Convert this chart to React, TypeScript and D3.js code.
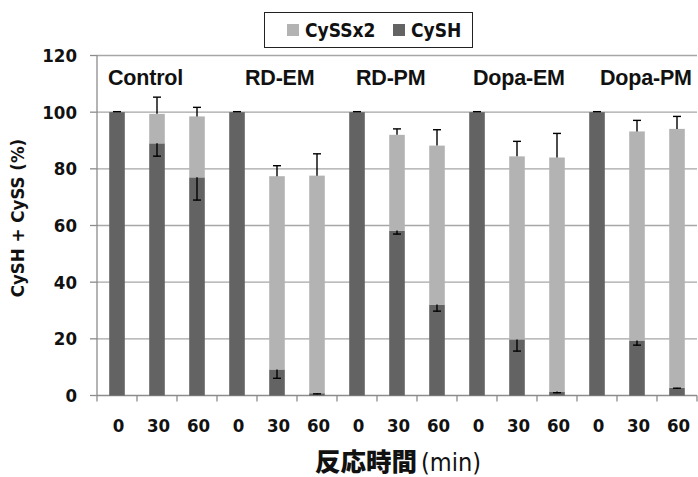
import * as d3 from "d3";

// values (%)
const groups = ["Control", "RD-EM", "RD-PM", "Dopa-EM", "Dopa-PM"];
const times = ["0", "30", "60"];
const cysh = [100, 89, 77, 100, 9.2, 0.8, 100, 58.2, 32.1, 100, 19.8, 1.4, 100, 19.4, 2.7];
const cyssx2 = [0, 10.4, 21.5, 0, 68.2, 76.8, 0, 33.8, 56.1, 0, 64.6, 82.6, 0, 73.8, 91.4];
const totalErr = [0, 5.9, 3.2, 0, 3.7, 7.7, 0, 2.1, 5.6, 0, 5.3, 8.5, 0, 3.9, 4.4];
const cyshErr = [0, 4.7, 8.2, 0, 3.3, 0.4, 0, 1.4, 2.5, 0, 4.3, 0.6, 0, 1.8, 0.3];
const yTicks = [0, 20, 40, 60, 80, 100, 120];

const W = 698;
const H = 477;
const MARGIN = { top: 55.5, right: 1, bottom: 81.5, left: 97 };
// group label left positions (manually placed text boxes in the original)
const GROUP_LABEL_X = [108, 245, 356, 473, 600];

const DARK = "#636363";
const LIGHT = "#b3b3b3";
const GRID = "#a6a6a6";
const AXIS = "#8c8c8c";
const COND = "'DejaVu Sans Condensed', 'DejaVu Sans', sans-serif";

export default function App() {
  const boundsWidth = W - MARGIN.left - MARGIN.right;
  const boundsHeight = H - MARGIN.top - MARGIN.bottom;

  const rows = groups.flatMap((g, gi) =>
    times.map((t, ti) => {
      const i = gi * 3 + ti;
      return { key: `${g}-${t}`, t, cysh: cysh[i], cyss: cyssx2[i], tErr: totalErr[i], hErr: cyshErr[i] };
    })
  );

  const xScale = d3
    .scaleBand()
    .domain(rows.map((d) => d.key))
    .range([0, boundsWidth])
    .paddingInner(0.61)
    .paddingOuter(0.305);
  const step = boundsWidth / rows.length;
  const yScale = d3.scaleLinear().domain([0, 120]).range([boundsHeight, 0]);
  const bw = xScale.bandwidth();
  const cap = 4;

  return (
    <svg
      width={W}
      height={H}
      style={{ position: "absolute", left: 0, top: 0, background: "white" }}
    >
      {/* legend */}
      <rect x={264.5} y={12.5} width={208} height={35} fill="white" stroke="#222" strokeWidth={1} />
      <rect x={287} y={24} width={12} height={12} fill={LIGHT} />
      <text x={305} y={37} fontFamily={COND} fontWeight="bold" fontSize={19} fill="#111">
        CySSx2
      </text>
      <rect x={393} y={24} width={12} height={12} fill={DARK} />
      <text x={411} y={37} fontFamily={COND} fontWeight="bold" fontSize={19} fill="#111">
        CySH
      </text>

      <g transform={`translate(${MARGIN.left},${MARGIN.top})`}>
        {/* gridlines */}
        {yTicks.map((t) => (
          <line key={t} x1={0} x2={boundsWidth} y1={yScale(t)} y2={yScale(t)} stroke={t === 0 ? AXIS : GRID} strokeWidth={1.3} />
        ))}
        {/* y axis */}
        <line x1={0} x2={0} y1={0} y2={boundsHeight} stroke={AXIS} strokeWidth={1.3} />
        {yTicks.map((t) => (
          <g key={`yt${t}`}>
            <line x1={-7} x2={0} y1={yScale(t)} y2={yScale(t)} stroke={AXIS} strokeWidth={1.3} />
            <text x={-20} y={yScale(t)} dy="0.36em" textAnchor="end" fontFamily={COND} fontWeight="bold" fontSize={18.5} fill="#111">
              {t}
            </text>
          </g>
        ))}
        {/* x ticks */}
        {d3.range(rows.length + 1).map((i) => (
          <line key={`xt${i}`} x1={i * step} x2={i * step} y1={boundsHeight} y2={boundsHeight + 6} stroke={AXIS} strokeWidth={1.3} />
        ))}

        {/* bars */}
        {rows.map((d) => {
          const x = xScale(d.key) ?? 0;
          const cx = x + bw / 2;
          const yH = yScale(d.cysh);
          const yT = yScale(d.cysh + d.cyss);
          return (
            <g key={d.key}>
              <rect x={x} y={yH} width={bw} height={boundsHeight - yH} fill={DARK} />
              {d.cyss > 0 && <rect x={x} y={yT} width={bw} height={yH - yT} fill={LIGHT} />}
              {/* total error (up) */}
              {d.cyss > 0 && (
                <g stroke="#000" strokeWidth={1.4}>
                  <line x1={cx} x2={cx} y1={yT} y2={yScale(d.cysh + d.cyss + d.tErr)} />
                  <line x1={cx - cap} x2={cx + cap} y1={yScale(d.cysh + d.cyss + d.tErr)} y2={yScale(d.cysh + d.cyss + d.tErr)} />
                </g>
              )}
              {/* CySH error (down) */}
              <g stroke="#000" strokeWidth={1.4}>
                <line x1={cx} x2={cx} y1={yH} y2={yScale(d.cysh - d.hErr)} />
                <line x1={cx - cap} x2={cx + cap} y1={yScale(d.cysh - d.hErr) - 0.5} y2={yScale(d.cysh - d.hErr) - 0.5} />
              </g>
            </g>
          );
        })}

        {/* x tick labels */}
        {rows.map((d) => (
          <text
            key={`xl${d.key}`}
            x={(xScale(d.key) ?? 0) + bw / 2 + 1.5}
            y={boundsHeight + 36.5}
            textAnchor="middle"
            fontFamily={COND}
            fontWeight="bold"
            fontSize={18.5}
            fill="#111"
          >
            {d.t}
          </text>
        ))}

        {/* group labels */}
        {groups.map((g, i) => (
          <text
            key={g}
            x={GROUP_LABEL_X[i] - MARGIN.left}
            y={29.5}
            fontFamily="'Liberation Sans', Arial, sans-serif"
            fontWeight="bold"
            fontSize={21.5}
            letterSpacing={-0.2}
            fill="#111"
          >
            {g}
          </text>
        ))}
      </g>

      {/* y axis title */}
      <text
        transform="translate(24,218) rotate(-90)"
        textAnchor="middle"
        fontFamily={COND}
        fontWeight="bold"
        fontSize={18.5}
        fill="#111"
      >
        CySH + CySS (%)
      </text>

      {/* x axis title */}
      <text x={315} y={471} fill="#111">
        <tspan fontFamily="'Noto Sans CJK JP', sans-serif" fontWeight={900} fontSize={25.5}>
          反応時間
        </tspan>
        <tspan dx={4} fontFamily={COND} fontSize={25}>
          (min)
        </tspan>
      </text>
    </svg>
  );
}
